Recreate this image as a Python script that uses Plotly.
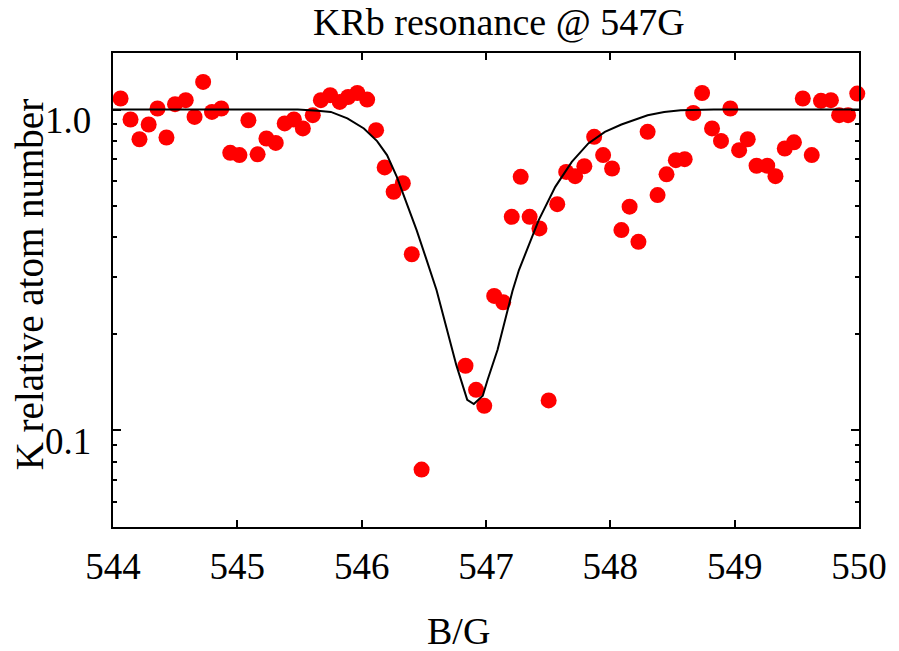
import math
import plotly.graph_objects as go

# Measured data points (B field in G, K relative atom number)
B_data = [544.061, 544.141, 544.213, 544.287, 544.358, 544.430, 544.499, 544.585, 544.656, 544.725,
          544.796, 544.871, 544.943, 545.017, 545.089, 545.163, 545.234, 545.309, 545.381, 545.455,
          545.527, 545.607, 545.672, 545.747, 545.824, 545.891, 545.965, 546.044, 546.116, 546.185,
          546.257, 546.331, 546.403, 546.482, 546.835, 546.920, 546.986, 547.066, 547.138, 547.207,
          547.279, 547.351, 547.430, 547.504, 547.573, 547.645, 547.717, 547.791, 547.870, 547.942,
          548.014, 548.089, 548.155, 548.226, 548.300, 548.380, 548.452, 548.527, 548.598, 548.667,
          548.738, 548.818, 548.890, 548.965, 549.036, 549.105, 549.176, 549.262, 549.328, 549.403,
          549.477, 549.548, 549.620, 549.694, 549.774, 549.840, 549.912, 549.986]
N_data = [1.082, 0.931, 0.808, 0.898, 1.007, 0.818, 1.039, 1.069, 0.948, 1.219,
          0.983, 1.007, 0.733, 0.721, 0.926, 0.725, 0.812, 0.787, 0.905, 0.931,
          0.873, 0.960, 1.069, 1.108, 1.056, 1.094, 1.126, 1.074, 0.862, 0.660,
          0.554, 0.589, 0.354, 0.0755, 0.159, 0.1338, 0.1193, 0.2625, 0.2508, 0.463,
          0.617, 0.463, 0.426, 0.124, 0.507, 0.639, 0.620, 0.666, 0.822, 0.721,
          0.655, 0.421, 0.498, 0.387, 0.852, 0.541, 0.628, 0.695, 0.700, 0.976,
          1.126, 0.873, 0.798, 1.007, 0.747, 0.808, 0.668, 0.668, 0.620, 0.756,
          0.790, 1.082, 0.721, 1.064, 1.069, 0.960, 0.960, 1.121]

# Fit curve
B_fit = [544.0, 545.487, 545.646, 545.752, 545.885, 546.018, 546.124, 546.204, 546.283, 546.363,
         546.442, 546.522, 546.602, 546.681, 546.761, 546.849, 546.902, 546.974, 547.013, 547.093,
         547.159, 547.213, 547.265, 547.318, 547.424, 547.557, 547.690, 547.823, 547.956, 548.089,
         548.195, 548.300, 548.433, 548.566, 548.832, 550.0]
N_fit = [1.0, 1.0, 0.991, 0.983, 0.938, 0.873, 0.797, 0.721, 0.617, 0.510,
         0.421, 0.340, 0.274, 0.2095, 0.160, 0.1246, 0.1208, 0.1282, 0.1438, 0.1783,
         0.2263, 0.272, 0.316, 0.356, 0.452, 0.574, 0.687, 0.784, 0.852, 0.898,
         0.926, 0.960, 0.983, 0.995, 1.0, 1.0]

x_ticks = [544, 545, 546, 547, 548, 549, 550]
y_ticks = [0.1, 1.0]
y_tick_labels = ["0.1", "1.0"]
y_minor = [0.06, 0.07, 0.08, 0.09, 0.2, 0.3, 0.4, 0.5, 0.6, 0.7, 0.8, 0.9]

FONT = "Liberation Serif"

fig = go.Figure()
fig.add_trace(go.Scatter(x=B_data, y=N_data, mode="markers",
                         marker=dict(color="#ff0000", size=16, line=dict(width=0)),
                         cliponaxis=False, showlegend=False))
fig.add_trace(go.Scatter(x=B_fit, y=N_fit, mode="lines",
                         line=dict(color="black", width=2), showlegend=False))

fig.update_layout(
    width=899, height=651,
    margin=dict(l=113, r=32, t=53, b=124),
    paper_bgcolor="white", plot_bgcolor="white",
    font=dict(family=FONT, size=36, color="black"),
    showlegend=False,
)
fig.update_xaxes(range=[544, 550], tickvals=x_ticks, ticktext=[str(v) for v in x_ticks],
                 ticks="inside", ticklen=7, tickwidth=1.5, tickcolor="black",
                 showline=True, linecolor="black", linewidth=2, mirror="ticks",
                 showgrid=False, zeroline=False, ticklabelstandoff=6,
                 tickfont=dict(family=FONT, size=37))
fig.update_yaxes(type="log", range=[math.log10(0.05), math.log10(1.5)],
                 tickvals=y_ticks, showticklabels=False,
                 ticks="inside", ticklen=8, tickwidth=1.5, tickcolor="black",
                 minor=dict(tickvals=y_minor, ticks="inside", ticklen=4, tickwidth=1.5,
                            tickcolor="black", showgrid=False),
                 showline=True, linecolor="black", linewidth=2, mirror="ticks",
                 showgrid=False, zeroline=False)

for v, t in zip(y_ticks, y_tick_labels):
    fig.add_annotation(text=t, xref="paper", x=0, xanchor="right", xshift=-20,
                       yref="y", y=math.log10(v), yanchor="middle", yshift=-11,
                       showarrow=False, font=dict(family=FONT, size=37))

fig.add_annotation(text="KRb resonance @ 547G", xref="paper", x=0.5177, xanchor="center",
                   yref="paper", y=1, yanchor="middle", yshift=31,
                   showarrow=False, font=dict(family=FONT, size=38))
fig.add_annotation(text="B/G", xref="paper", x=(462 - 113) / 753.4, xanchor="center",
                   yref="paper", y=0, yanchor="middle", yshift=-104,
                   showarrow=False, font=dict(family=FONT, size=38))
fig.add_annotation(text="K relative atom number", xref="paper", x=0, xanchor="center",
                   xshift=-84, yref="paper", y=(526.7 - 285) / 474, yanchor="middle",
                   textangle=-90, showarrow=False, font=dict(family=FONT, size=39))

fig.write_html("out.html")
